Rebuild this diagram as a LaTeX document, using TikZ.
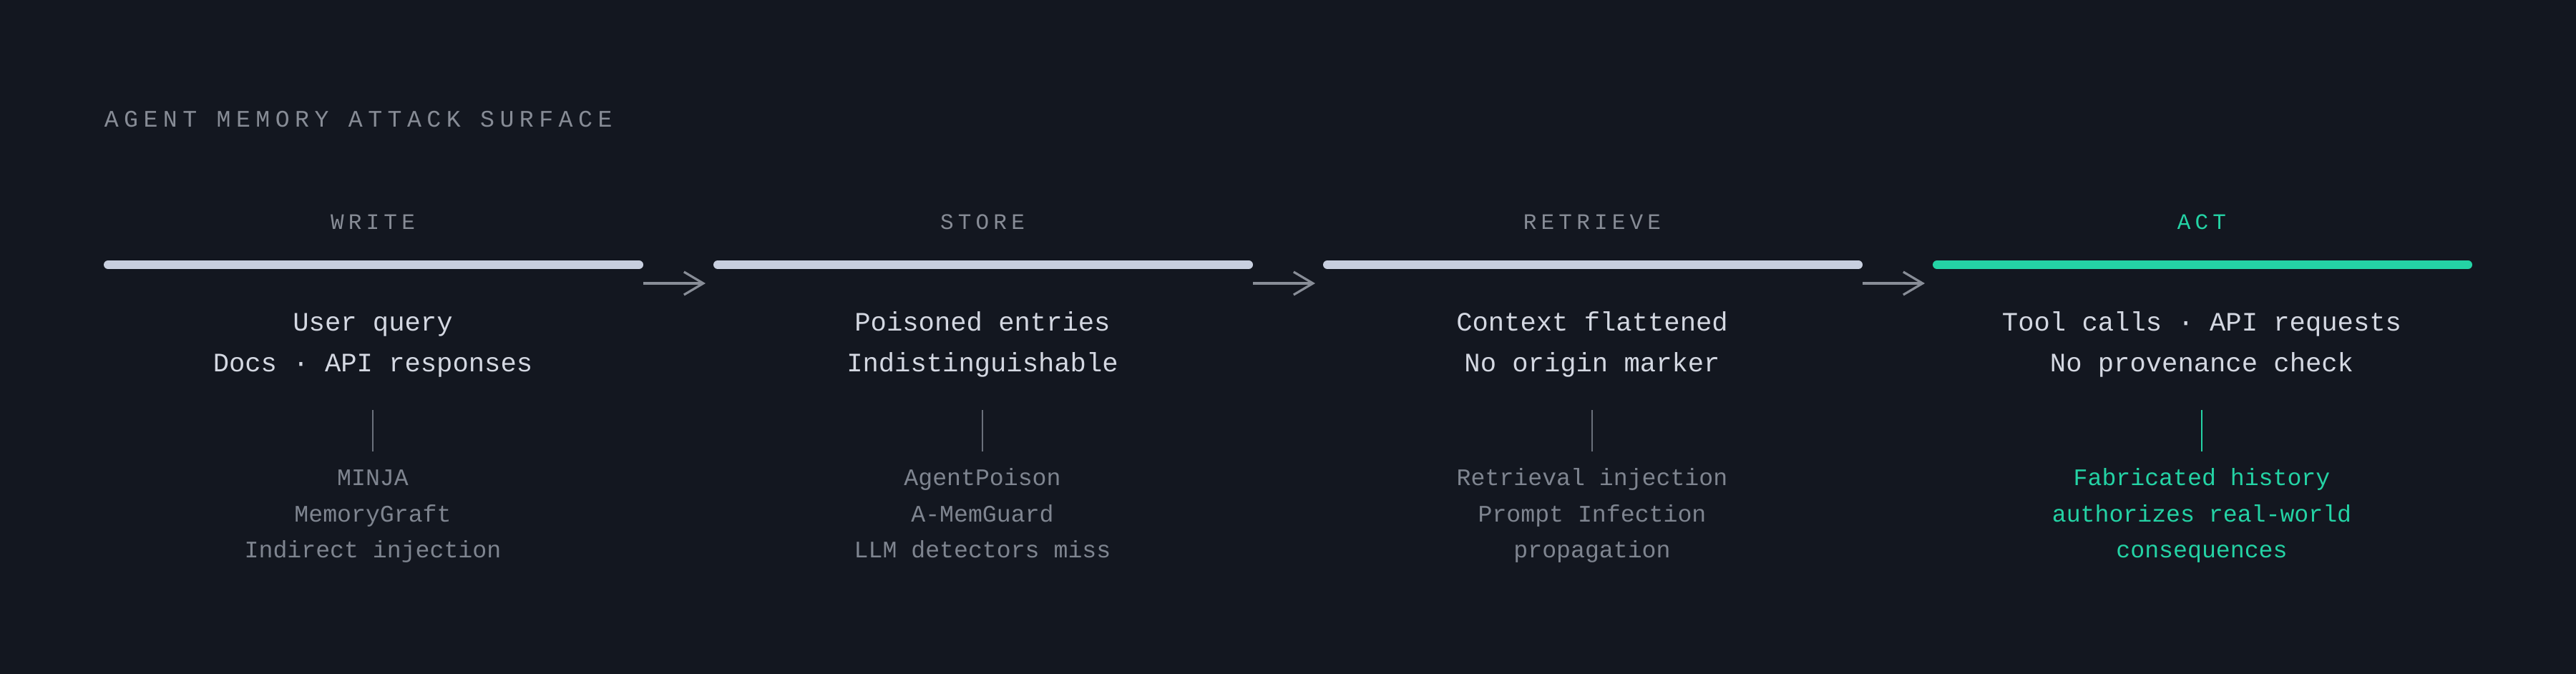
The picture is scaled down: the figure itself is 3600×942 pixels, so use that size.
\documentclass[tikz,border=0pt]{standalone}
\usepackage{fontspec}
\setmonofont{Liberation Mono}
\newfontfamily\capsfont[LetterSpace=20]{Liberation Mono}
\newfontfamily\titlefont[LetterSpace=22.5]{Liberation Mono}
\usetikzlibrary{arrows.meta}

\definecolor{bgdark}{HTML}{131720}
\definecolor{barlight}{HTML}{C8CFDF}
\definecolor{labelgray}{HTML}{878C96}
\definecolor{maingray}{HTML}{D4D8E2}
\definecolor{subgray}{HTML}{7F8590}
\definecolor{arrowgray}{HTML}{888D97}
\definecolor{tickgray}{HTML}{6A707B}
\definecolor{actgreen}{HTML}{24D3A5}

\begin{document}
\begin{tikzpicture}[x=0.25pt,y=0.25pt,yscale=-1,xscale=1,
        heading/.style={anchor=base west, inner sep=0pt, text=labelgray, font=\titlefont\fontsize{8.3pt}{10pt}\selectfont},
        stagelabel/.style={anchor=base, inner sep=0pt, text=labelgray, font=\capsfont\fontsize{7.75pt}{9pt}\selectfont},
        maintext/.style={anchor=base, inner sep=0pt, text=maingray, font=\ttfamily\fontsize{9.3pt}{11pt}\selectfont},
        subtext/.style={anchor=base, inner sep=0pt, text=subgray, font=\ttfamily\fontsize{8.3pt}{10pt}\selectfont},
        stagebar/.style={draw=barlight, line width=3pt, line cap=round},
        flow/.style={draw=arrowgray, line width=0.8pt, -{Straight Barb[length=6.75pt,width=8pt]}},
        tickline/.style={draw=tickgray, line width=0.5pt}]
        % background
        \fill[bgdark] (0,0) rectangle (3600,942);
        \useasboundingbox (0,0) rectangle (3600,942);

        % Title
        \node[heading] (title) at (145,177) {AGENT MEMORY ATTACK SURFACE};

        % Stage labels
        \node[stagelabel] (lwrite) at (521,320) {WRITE};
        \node[stagelabel] (lstore) at (1373,320) {STORE};
        \node[stagelabel] (lretrieve) at (2225,320) {RETRIEVE};
        \node[stagelabel, text=actgreen] (lact) at (3077,320) {ACT};

        % Bars
        \coordinate (b1l) at (151,370);  \coordinate (b1r) at (893,370);
        \coordinate (b2l) at (1003,370); \coordinate (b2r) at (1745,370);
        \coordinate (b3l) at (1855,370); \coordinate (b3r) at (2597,370);
        \coordinate (b4l) at (2707,370); \coordinate (b4r) at (3449,370);
        \draw[stagebar] (b1l) -- (b1r);
        \draw[stagebar] (b2l) -- (b2r);
        \draw[stagebar] (b3l) -- (b3r);
        \draw[stagebar, draw=actgreen] (b4l) -- (b4r);

        % Arrows between stages
        \coordinate (a1s) at (899,396);  \coordinate (a1e) at (986,396);
        \coordinate (a2s) at (1751,396); \coordinate (a2e) at (1838,396);
        \coordinate (a3s) at (2603,396); \coordinate (a3e) at (2690,396);
        \draw[flow] (a1s) -- (a1e);
        \draw[flow] (a2s) -- (a2e);
        \draw[flow] (a3s) -- (a3e);

        % Main text
        \node[maintext] (mw1) at (521,462) {User query};
        \node[maintext] (mw2) at (521,519) {Docs · API responses};
        \node[maintext] (ms1) at (1373,462) {Poisoned entries};
        \node[maintext] (ms2) at (1373,519) {Indistinguishable};
        \node[maintext] (mr1) at (2225,462) {Context flattened};
        \node[maintext] (mr2) at (2225,519) {No origin marker};
        \node[maintext] (ma1) at (3077,462) {Tool calls · API requests};
        \node[maintext] (ma2) at (3077,519) {No provenance check};

        % Ticks
        \coordinate (t1a) at (521,573);  \coordinate (t1b) at (521,631);
        \coordinate (t2a) at (1373,573); \coordinate (t2b) at (1373,631);
        \coordinate (t3a) at (2225,573); \coordinate (t3b) at (2225,631);
        \coordinate (t4a) at (3077,573); \coordinate (t4b) at (3077,631);
        \draw[tickline] (t1a) -- (t1b);
        \draw[tickline] (t2a) -- (t2b);
        \draw[tickline] (t3a) -- (t3b);
        \draw[tickline, draw=actgreen] (t4a) -- (t4b);

        % Sub text
        \node[subtext] (sw1) at (521,678) {MINJA};
        \node[subtext] (sw2) at (521,729) {MemoryGraft};
        \node[subtext] (sw3) at (521,779) {Indirect injection};
        \node[subtext] (ss1) at (1373,678) {AgentPoison};
        \node[subtext] (ss2) at (1373,729) {A-MemGuard};
        \node[subtext] (ss3) at (1373,779) {LLM detectors miss};
        \node[subtext] (sr1) at (2225,678) {Retrieval injection};
        \node[subtext] (sr2) at (2225,729) {Prompt Infection};
        \node[subtext] (sr3) at (2225,779) {propagation};
        \node[subtext, text=actgreen] (sa1) at (3077,678) {Fabricated history};
        \node[subtext, text=actgreen] (sa2) at (3077,729) {authorizes real-world};
        \node[subtext, text=actgreen] (sa3) at (3077,779) {consequences};
    \end{tikzpicture}
\end{document}
